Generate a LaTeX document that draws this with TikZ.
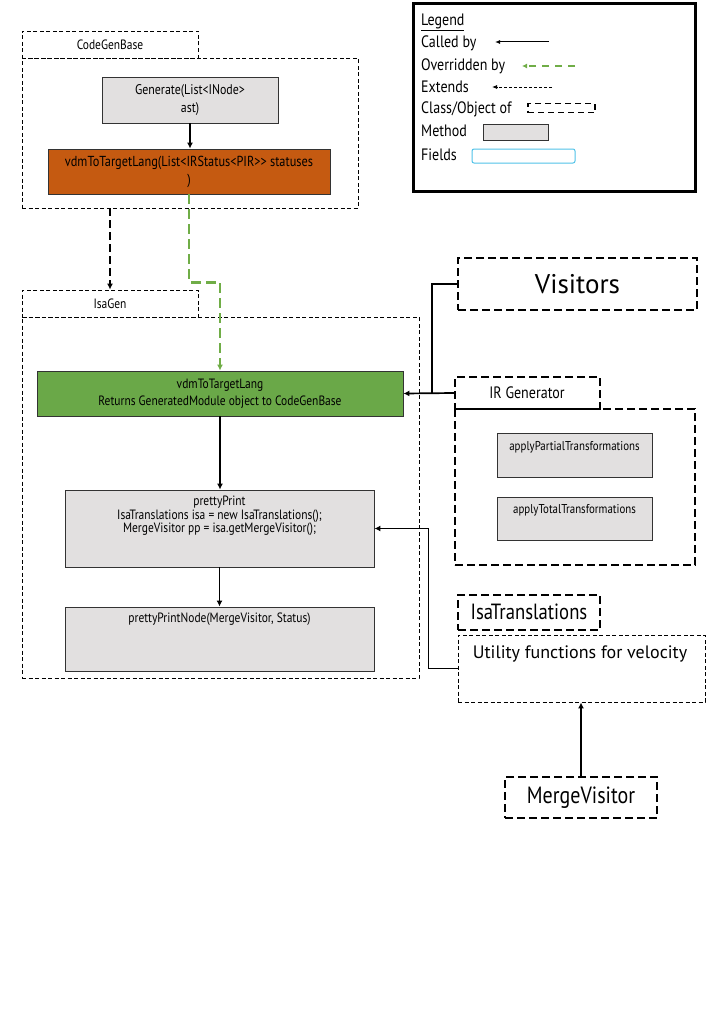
\documentclass[tikz,border=0pt]{standalone}
\usepackage{fontspec}
\setmainfont{PT Sans}[FakeStretch=0.85]
\newfontfamily\widefont{PT Sans}
\usetikzlibrary{arrows.meta}
\definecolor{orangebox}{RGB}{197,90,17}
\definecolor{greenbox}{RGB}{106,168,72}
\definecolor{greenline}{RGB}{112,173,71}
\definecolor{methodgray}{RGB}{226,224,224}
\definecolor{fieldcyan}{RGB}{80,195,232}
\tikzset{
  fsz/.style 2 args={font=\fontsize{#1}{#2}\selectfont},
  wsz/.style 2 args={font=\widefont\fontsize{#1}{#2}\selectfont},
  classthin/.style={draw=black, line width=0.9pt, dash pattern=on 4pt off 2.5pt, inner sep=0pt},
  classthick/.style={draw=black, line width=2pt, dash pattern=on 8pt off 4pt, inner sep=0pt},
  methodbox/.style={draw=black!80, line width=0.9pt, fill=methodgray, inner sep=0pt, align=center},
  txt/.style={inner sep=0pt, align=center},
  calls/.style={draw=black, line width=1.7pt, -{Latex[length=6pt,width=6pt]}},
  override/.style={draw=greenline, line width=2.4pt, dash pattern=on 10pt off 5pt, -{Latex[length=6pt,width=6pt]}},
  extendsarrow/.style={draw=black, line width=2.2pt, dash pattern=on 8pt off 4pt, -{Latex[length=6pt,width=6pt]}},
  connector/.style={draw=black, line width=1.2pt},
}
\begin{document}
\begin{tikzpicture}[x=1pt,y=-1pt]
\useasboundingbox (0,0) rectangle (715,1033);
\fill[white] (0,0) rectangle (715,1033);

% ---------- Legend ----------
\node[draw=black, line width=3pt, minimum width=282pt, minimum height=187pt, inner sep=0pt] (legend) at (554,97.5) {};
\node[txt, fsz={16.5}{19}, anchor=west] (lgtitle) at (421,22) {\underline{Legend}};
\node[txt, fsz={16.5}{19}, anchor=west] (lgcall) at (421,43) {Called by};
\node[txt, fsz={16.5}{19}, anchor=west] (lgover) at (421,66) {Overridden by};
\node[txt, fsz={16.5}{19}, anchor=west] (lgext) at (421,87) {Extends};
\node[txt, fsz={16.5}{19}, anchor=west] (lgclass) at (421,109) {Class/Object of};
\node[txt, fsz={16.5}{19}, anchor=west] (lgmeth) at (421,131) {Method};
\node[txt, fsz={16.5}{19}, anchor=west] (lgfield) at (421,155) {Fields};
\coordinate (lc1a) at (549,42); \coordinate (lc1b) at (495,42);
\draw[draw=black, line width=1pt, -{Latex[length=5pt,width=4pt]}] (lc1a) -- (lc1b);
\coordinate (lc2a) at (575,66); \coordinate (lc2b) at (522,66);
\draw[draw=greenline, line width=1.8pt, dash pattern=on 7pt off 6pt, -{Latex[length=5pt,width=5pt]}] (lc2a) -- (lc2b);
\coordinate (lc3a) at (552,87); \coordinate (lc3b) at (492,87);
\draw[draw=black, line width=0.8pt, dash pattern=on 3pt off 2pt, -{Latex[length=5pt,width=4pt]}] (lc3a) -- (lc3b);
\node[draw=black, line width=1.6pt, dash pattern=on 6pt off 4pt, inner sep=0pt, minimum width=67pt, minimum height=9pt] (lgclassbox) at (561.5,108) {};
\node[methodbox, minimum width=65pt, minimum height=16pt] (lgmethbox) at (516,132) {};
\node[draw=fieldcyan, line width=1pt, rounded corners=2pt, minimum width=103pt, minimum height=14pt, inner sep=0pt] (lgfieldbox) at (523.5,156) {};

% ---------- CodeGenBase ----------
\node[classthin, minimum width=176pt, minimum height=27pt] (cgbtab) at (110,44.5) {};
\node[txt, fsz={13.5}{16}] (cgblabel) at (110,45) {CodeGenBase};
\node[classthin, minimum width=336pt, minimum height=150pt] (cgbbox) at (190,133) {};
\node[methodbox, fsz={14}{18}, minimum width=176pt, minimum height=46pt] (gen) at (190,100) {Generate(List<INode>\\ast)};
\node[draw=black!80, line width=0.9pt, fill=orangebox, inner sep=0pt, align=center, fsz={14.5}{18}, minimum width=282pt, minimum height=45pt] (vdm) at (189,171.5) {vdmToTargetLang(List<IRStatus<PIR>{}> statuses\\)};
\draw[calls] (gen.south) -- (gen.south |- vdm.north);

% ---------- IsaGen ----------
\node[classthin, minimum width=176pt, minimum height=27pt] (isatab) at (110,303.5) {};
\node[txt, fsz={13.5}{16}] (isalabel) at (110,304) {IsaGen};
\node[classthin, minimum width=397pt, minimum height=361pt] (isabox) at (220.5,497.5) {};
\node[draw=black!80, line width=0.9pt, fill=greenbox, inner sep=0pt, align=center, fsz={13.5}{17}, minimum width=366pt, minimum height=45pt] (green) at (220,393.5) {vdmToTargetLang\\Returns GeneratedModule object to CodeGenBase};
\node[methodbox, minimum width=309pt, minimum height=77pt] (pp) at (219.5,528.5) {};
\node[txt, fsz={13.5}{13.5}, anchor=north] (pptext) at (219.5,496) {prettyPrint\\IsaTranslations isa = new IsaTranslations();\\MergeVisitor pp = isa.getMergeVisitor();};
\node[methodbox, minimum width=309pt, minimum height=64pt] (ppn) at (219.5,639) {};
\node[txt, fsz={13.5}{13.5}, anchor=north] (ppntext) at (219.5,613) {prettyPrintNode(MergeVisitor, Status)};

\draw[extendsarrow] (isatab.north |- cgbbox.south) -- (isatab.north);
\draw[override] (vdm.south) -- ++(0,88) -| (green.north);
\draw[calls] (green.south) -- (green.south |- pp.north);
\draw[calls] (pp.south) -- (ppn.north);

% ---------- Visitors ----------
\node[classthick, minimum width=239pt, minimum height=52pt] (visitors) at (577.5,284) {};
\node[txt, wsz={27}{32}] (vislabel) at (577.5,284) {Visitors};

% ---------- IR Generator ----------
\node[classthick, minimum width=145pt, minimum height=32pt] (irtab) at (527.5,393) {};
\node[txt, fsz={16.5}{19}] (irlabel) at (527,393) {IR Generator};
\node[classthick, minimum width=240pt, minimum height=156pt] (irbox) at (575,487) {};
\node[methodbox, minimum width=155pt, minimum height=44pt] (apt) at (574.5,455) {};
\node[txt, fsz={12.8}{15}] (apttext) at (574.5,447) {applyPartialTransformations};
\node[methodbox, minimum width=155pt, minimum height=43pt] (att) at (574.5,518.5) {};
\node[txt, fsz={12.8}{15}] (atttext) at (574.5,510) {applyTotalTransformations};

\coordinate (jn) at (432,393);
\draw[connector] (visitors.west) -| (jn);
\draw[calls] (irtab.west) -- (green.east);

% ---------- IsaTranslations ----------
\node[classthick, minimum width=142pt, minimum height=35pt] (isattab) at (529,612.5) {};
\node[txt, fsz={22}{26}] (isatlabel) at (529,612) {IsaTranslations};
\node[classthin, minimum width=247pt, minimum height=67pt] (util) at (581.5,668.5) {};
\node[txt, wsz={18}{21}] (utiltext) at (580,654) {Utility functions for velocity};
\draw[calls] (util.west) -- ++(-29,0) |- (pp.east);

% ---------- MergeVisitor ----------
\node[classthick, minimum width=152pt, minimum height=41pt] (mv) at (581,797.5) {};
\node[txt, fsz={23.5}{27}] (mvlabel) at (581,798) {MergeVisitor};
\draw[calls] (mv.north) -- (util.south -| mv.north);
\end{tikzpicture}
\end{document}
